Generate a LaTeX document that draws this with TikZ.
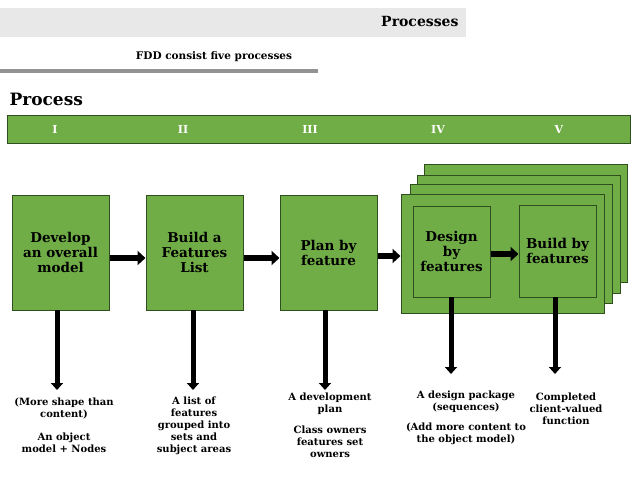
\documentclass[tikz,border=0pt]{standalone}
\usepackage{fontspec}
\setmainfont{DejaVu Serif}
\usetikzlibrary{arrows.meta}
\definecolor{gr}{HTML}{70AD47}
\definecolor{bd}{HTML}{2F4F1F}
\begin{document}
\begin{tikzpicture}[x=1pt,y=-1pt,
 box/.style={draw=bd,line width=1pt,fill=gr},
 bt/.style={font=\bfseries\fontsize{13.5}{15}\selectfont,align=center,text=black},
 lab/.style={font=\bfseries\fontsize{10}{12}\selectfont,align=center},
 harr/.style={line width=6pt,-{Triangle[length=8pt,width=14pt]}},
 varr/.style={line width=5pt,-{Triangle[length=7pt,width=12pt]}}]
\useasboundingbox (0,0) rectangle (638,479);
\fill[gray!18] (0,8) rectangle (466,37);
\node[anchor=east,font=\bfseries\fontsize{14}{16}\selectfont] (t1) at (462,21) {Processes};
\node[font=\bfseries\fontsize{10.5}{12}\selectfont] (t2) at (214,57) {FDD consist five processes};
\fill[gray!85] (0,69) rectangle (318,73);
\node[anchor=west,font=\bfseries\fontsize{17}{19}\selectfont] (t3) at (6,99) {Process};
\draw[box] (7,115) rectangle (630,143);
\foreach \x/\r/\n in {55/I/r1,183/II/r2,310/III/r3,438/IV/r4,559/V/r5}
  \node[text=white,font=\bfseries\fontsize{11}{12}\selectfont] (\n) at (\x,129) {\r};
\node[box,minimum width=97pt,minimum height=115pt] (b1) at (60.5,252.5) {};
\node[bt] at (b1) {Develop\\an overall\\model};
\node[box,minimum width=97pt,minimum height=115pt] (b2) at (194.5,252.5) {};
\node[bt] at (b2) {Build a\\Features\\List};
\node[box,minimum width=97pt,minimum height=115pt] (b3) at (328.5,252.5) {};
\node[bt] at (b3) {Plan by\\feature};
\draw[box] (424,164) rectangle (627,282);
\draw[box] (417,175) rectangle (620,293);
\draw[box] (410,184) rectangle (612,303);
\node[box,minimum width=203pt,minimum height=119pt] (b4) at (502.5,253.5) {};
\node[box,minimum width=77pt,minimum height=91pt] (d) at (451.5,251.5) {};
\node[bt] at (d) {Design\\by\\features};
\node[box,minimum width=77pt,minimum height=92pt] (e) at (557.5,251) {};
\node[bt] at (e) {Build by\\features};
\draw[harr] (b1.east|-0,258) -- (b2.west|-0,258);
\draw[harr] (b2.east|-0,258) -- (b3.west|-0,258);
\draw[harr] (b3.east|-0,256) -- (b4.west|-0,256);
\draw[harr] (d.east|-0,254) -- (e.west|-0,254);
\coordinate (a1) at (57,390); \coordinate (a2) at (193,390);
\coordinate (a3) at (325,390); \coordinate (a4) at (451,374); \coordinate (a5) at (555,374);
\draw[varr] (57,310) -- (a1);
\draw[varr] (193,310) -- (a2);
\draw[varr] (325,310) -- (a3);
\draw[varr] (451,297) -- (a4);
\draw[varr] (555,297) -- (a5);
\node[lab] (l1) at (64,408) {(More shape than\\content)};
\node[lab] (l1b) at (64,443) {An object\\model + Nodes};
\node[lab] (l2) at (194,426) {A list of\\features\\grouped into\\sets and\\subject areas};
\node[lab] (l3) at (330,404) {A development\\plan};
\node[lab] (l3b) at (330,442) {Class owners\\features set\\owners};
\node[lab] (l4) at (466,402) {A design package\\(sequences)};
\node[lab] (l4b) at (466,434) {(Add more content to\\the object model)};
\node[lab] (l5) at (566,409) {Completed\\client-valued\\function};
\end{tikzpicture}
\end{document}
